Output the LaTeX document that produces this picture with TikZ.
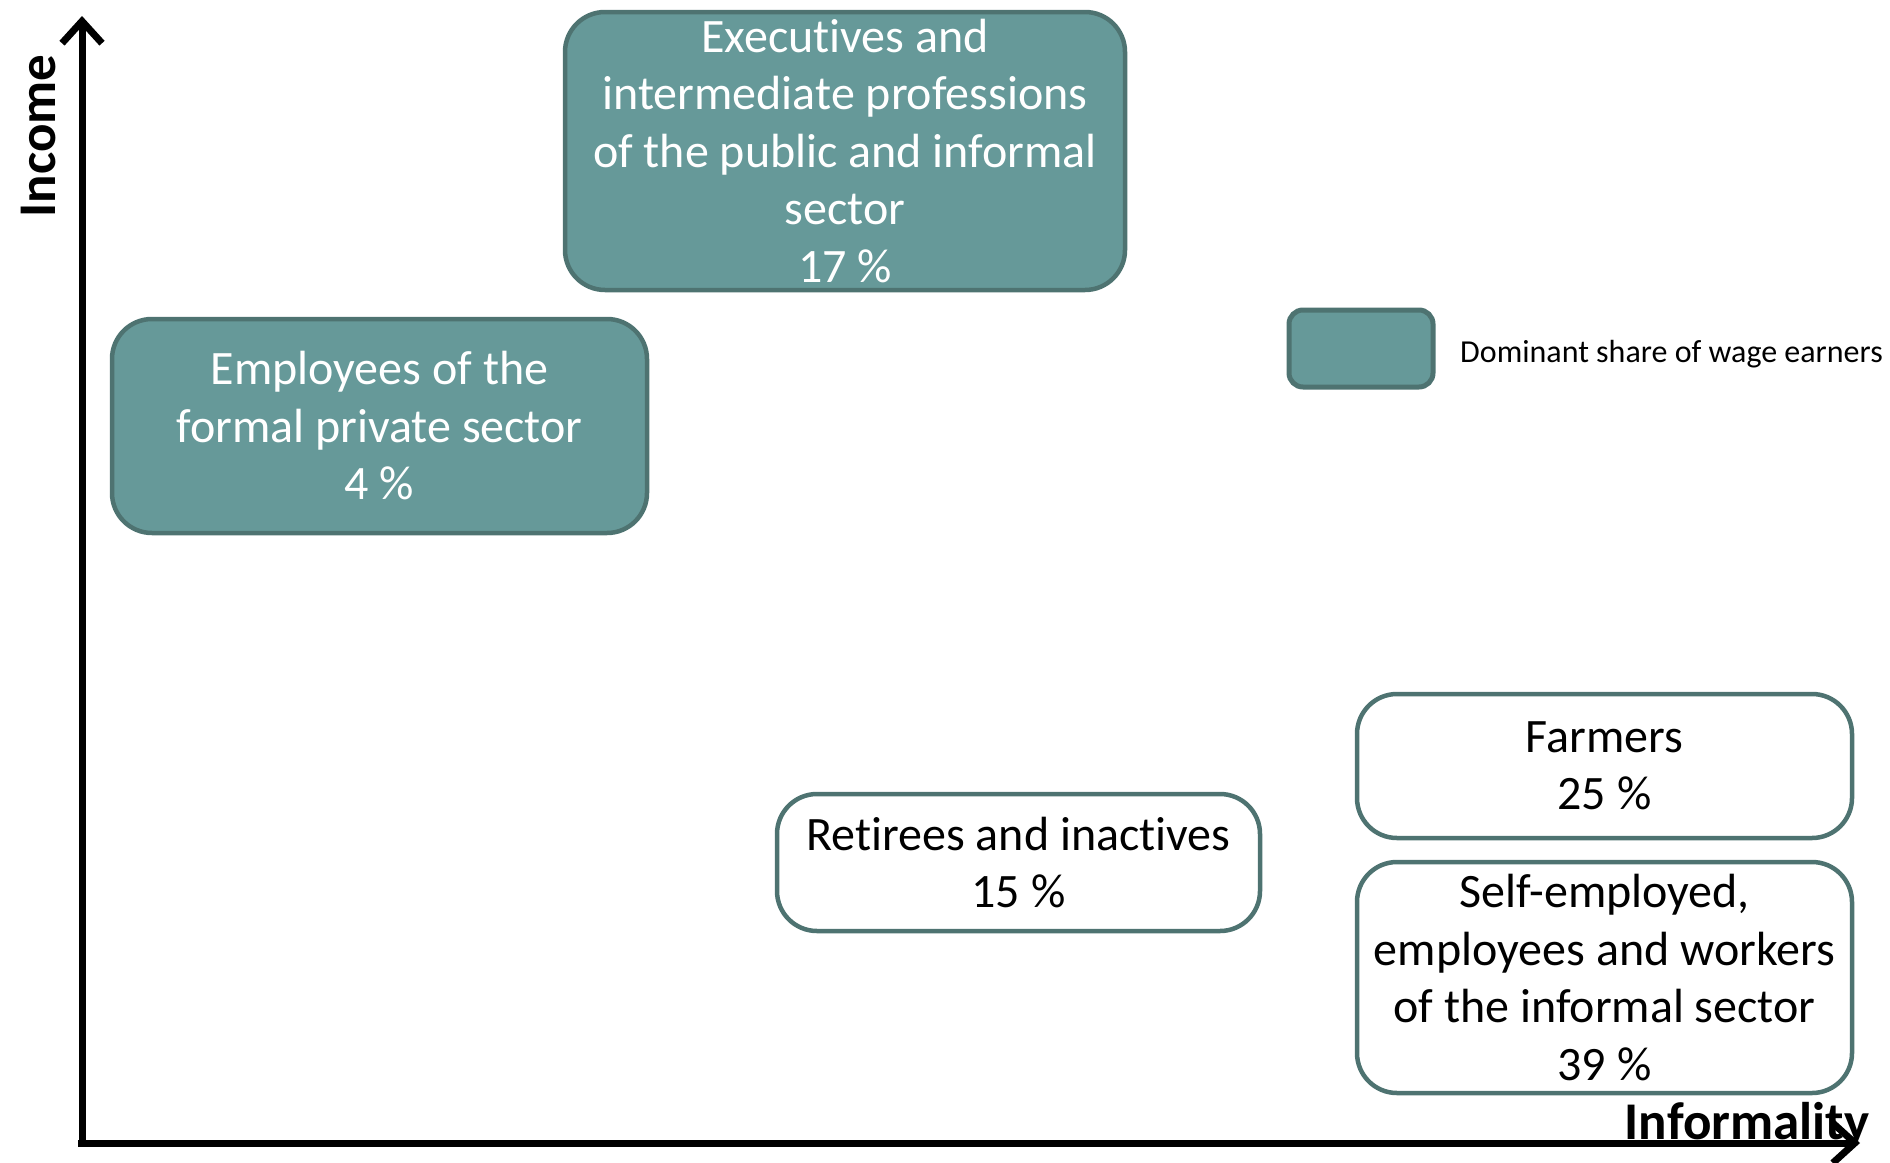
\documentclass[tikz,border=0pt]{standalone}
\usepackage{fontspec}
\setmainfont[Ligatures=NoCommon]{Carlito}
\usetikzlibrary{arrows.meta}
\definecolor{teal}{HTML}{669999}
\definecolor{tealdark}{HTML}{4E7371}

\tikzset{
  group/.style={draw=tealdark, line width=4.5pt, rounded corners=40pt, align=center,
    inner sep=0pt, font=\fontsize{48}{57.5}\selectfont},
  wage/.style={group, fill=teal, text=white},
  other/.style={group, fill=white, text=black},
  axis/.style={line width=7pt, -{Straight Barb[length=22pt,width=40pt,line width=7pt]}},
  axislabel/.style={font=\fontsize{53}{60}\selectfont\bfseries}
}

\begin{document}
\begin{tikzpicture}[x=1pt,y=-1pt]
\useasboundingbox (0,0) rectangle (1890,1162);

\coordinate (ytop) at (82,16);
\coordinate (xend) at (1860,1143);

\draw[axis] (82,1146) -- (ytop);
\draw[axis] (78,1143) -- (xend);

\node[axislabel, rotate=90, anchor=base] (income) at (55,136) {Income};
\node[axislabel, anchor=base] (informality) at (1747,1139) {Informality};

\node[wage, minimum width=560pt, minimum height=278pt] (exec) at (845,151)
  {Executives and\\intermediate professions\\of the public and informal\\sector\\17 \%};
\node[wage, minimum width=535pt, minimum height=214pt] (formal) at (379.5,426)
  {Employees of the\\formal private sector\\4 \%};

\node[other, minimum width=483pt, minimum height=137pt] (retirees) at (1018.5,862.5)
  {Retirees and inactives\\15 \%};
\node[other, minimum width=495pt, minimum height=144pt] (farmers) at (1604.5,766)
  {Farmers\\25 \%};
\node[other, minimum width=495pt, minimum height=231pt] (informal) at (1604.5,977.5)
  {Self-employed,\\employees and workers\\of the informal sector\\39 \%};

% legend
\node[wage, line width=5pt, rounded corners=14pt, minimum width=144pt, minimum height=77pt] (key) at (1361,348.5) {};
\node[anchor=west, inner sep=0pt, font=\fontsize{32}{38}\selectfont] (keytext) at (1460,354) {Dominant share of wage earners};

\end{tikzpicture}
\end{document}
